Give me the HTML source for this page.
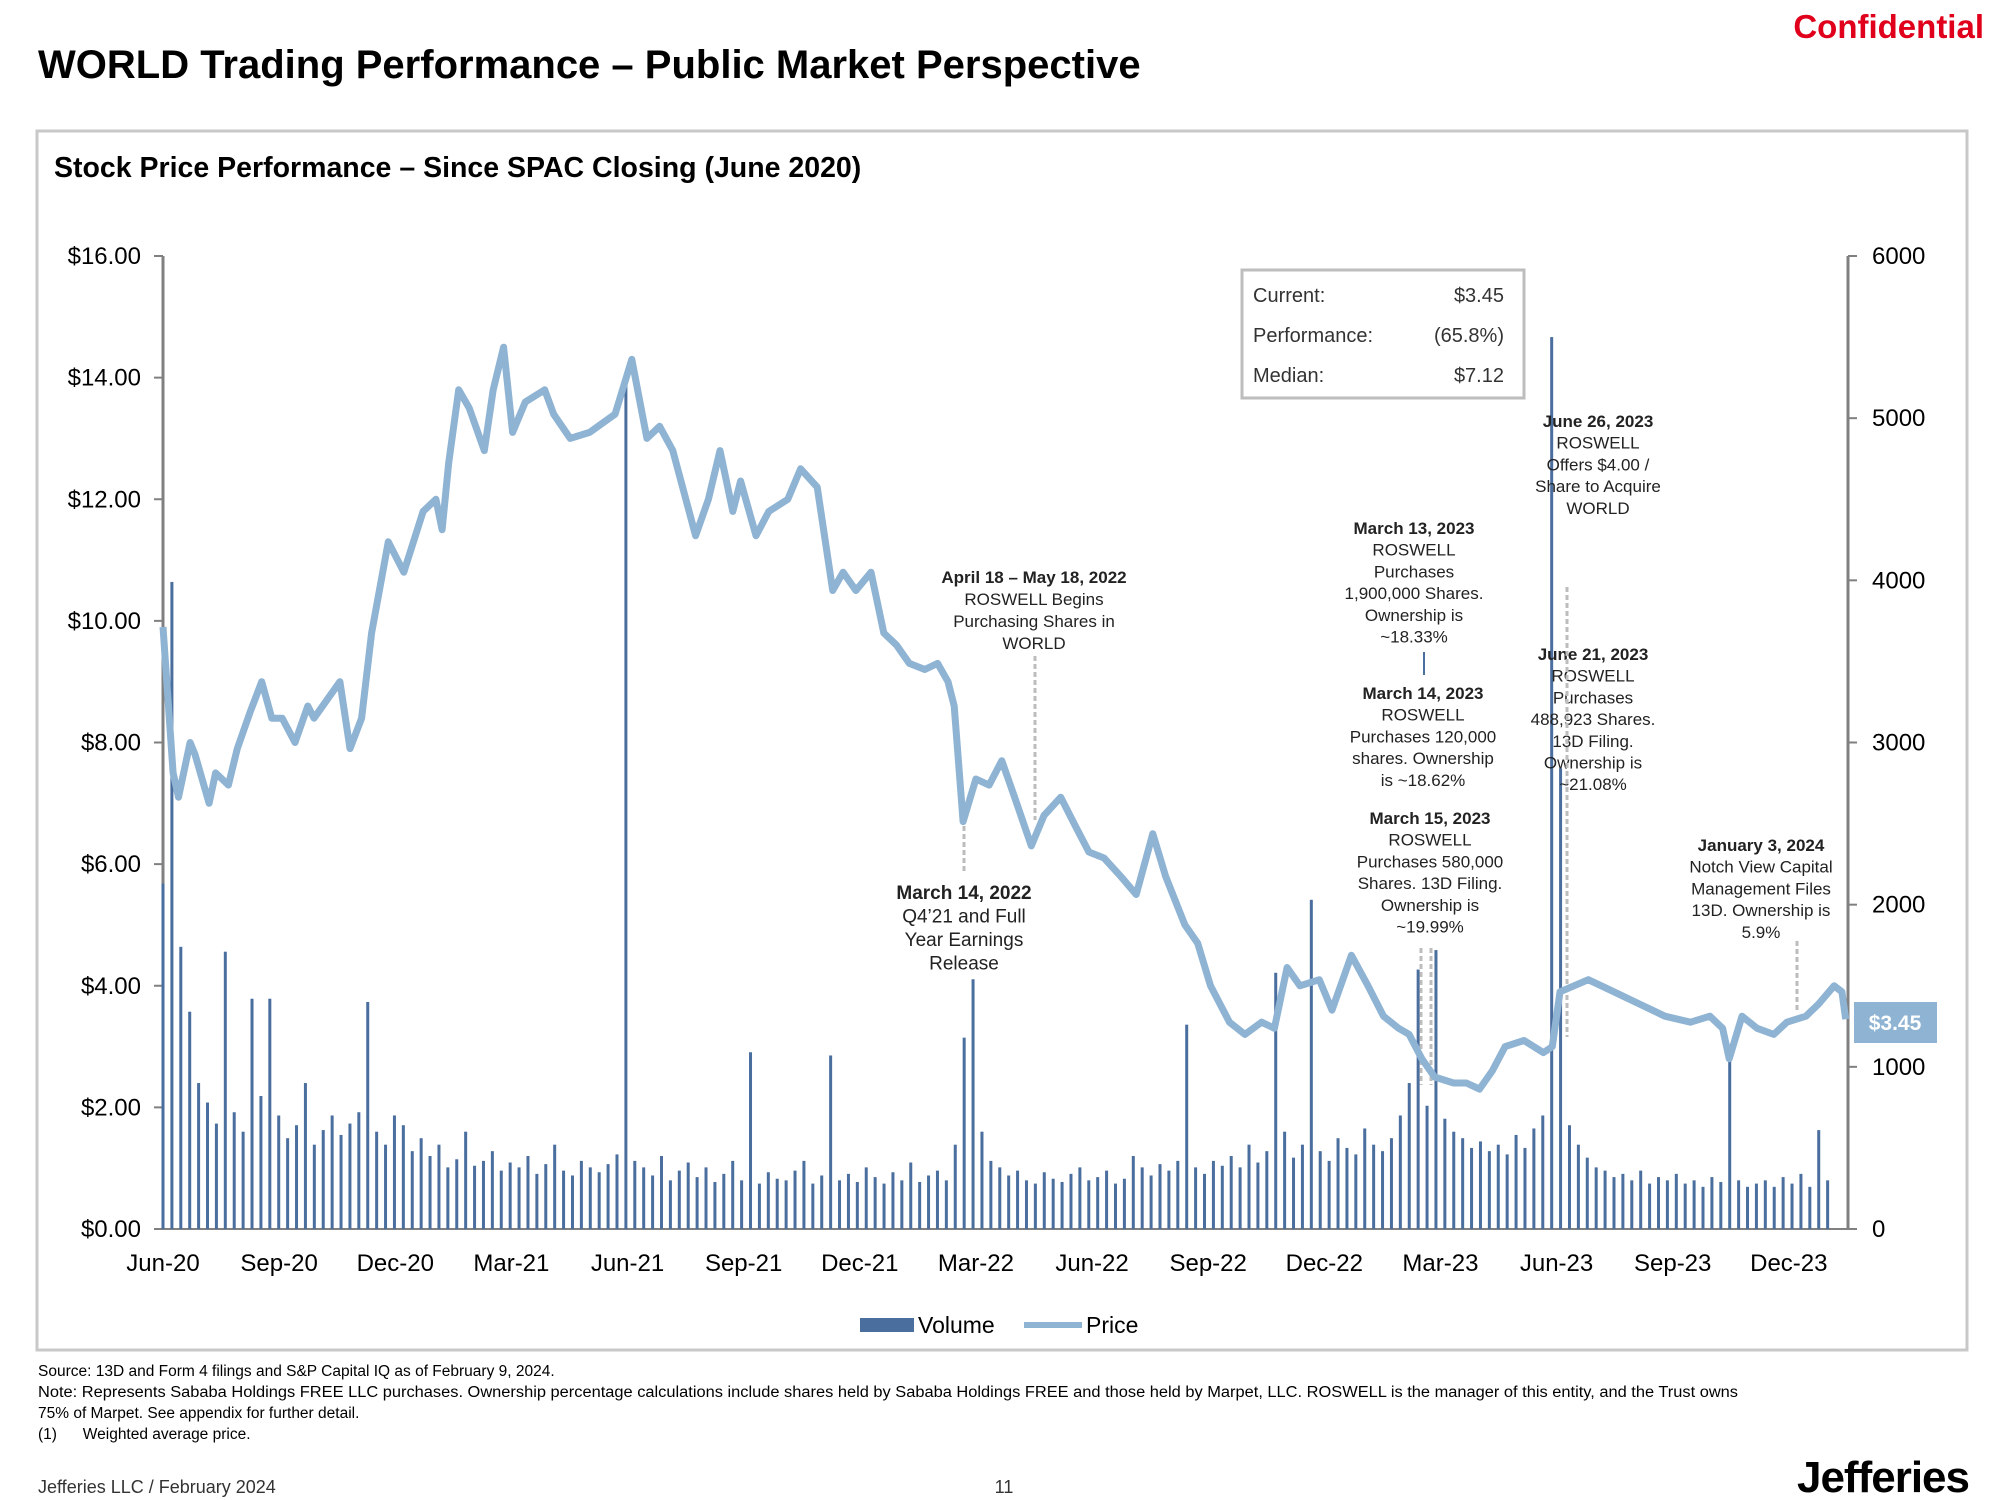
<!DOCTYPE html>
<html><head><meta charset="utf-8">
<style>
html,body{margin:0;padding:0;background:#fff;}
svg{display:block;font-family:"Liberation Sans Narrow","Liberation Sans",sans-serif;}
</style></head>
<body>
<svg id="chart" width="2000" height="1500" viewBox="0 0 2000 1500">
<text x="38" y="78" font-size="40" font-weight="bold" fill="#000">WORLD Trading Performance – Public Market Perspective</text>
<text x="1984" y="38" text-anchor="end" font-size="33" font-weight="bold" fill="#e0001b">Confidential</text>
<rect x="37" y="131" width="1930" height="1219" fill="none" stroke="#c8c8c8" stroke-width="3"/>
<text x="54" y="177" font-size="28.5" font-weight="bold" fill="#000">Stock Price Performance – Since SPAC Closing (June 2020)</text>
<g id="axes"></g>
<g id="vol"></g>
<g id="ann"></g>
<g id="price"></g>
<g>
<rect x="1242" y="270" width="282" height="128" fill="#fff" stroke="#bdbdbd" stroke-width="3"/>
<g font-size="20" fill="#333">
<text x="1253" y="302">Current:</text>
<text x="1504" y="302" text-anchor="end">$3.45</text>
<text x="1253" y="342">Performance:</text>
<text x="1504" y="342" text-anchor="end">(65.8%)</text>
<text x="1253" y="382">Median:</text>
<text x="1504" y="382" text-anchor="end">$7.12</text>
</g></g>
<g>
<rect x="1854" y="1002" width="83" height="41" fill="#8fb3d3"/>
<text x="1895" y="1030" text-anchor="middle" font-size="21" font-weight="bold" fill="#fff">$3.45</text>
</g>
<g>
<rect x="860" y="1318" width="54" height="14" fill="#4a6e9e"/>
<text x="918" y="1333" font-size="23" fill="#000">Volume</text>
<line x1="1024" y1="1325" x2="1082" y2="1325" stroke="#8fb3d3" stroke-width="6"/>
<text x="1086" y="1333" font-size="23" fill="#000">Price</text>
</g>
<g font-size="15.5" fill="#000">
<text x="38" y="1376">Source: 13D and Form 4 filings and S&amp;P Capital IQ as of February 9, 2024.</text>
<text x="38" y="1397" textLength="1700" lengthAdjust="spacingAndGlyphs">Note: Represents Sababa Holdings FREE LLC purchases. Ownership percentage calculations include shares held by Sababa Holdings FREE and those held by Marpet, LLC. ROSWELL is the manager of this entity, and the Trust owns</text>
<text x="38" y="1418">75% of Marpet. See appendix for further detail.</text>
<text x="38" y="1439">(1)&#160;&#160;&#160;&#160;&#160;&#160;Weighted average price.</text>
</g>
<text x="38" y="1493" font-size="18" fill="#333">Jefferies LLC  /  February 2024</text>
<text x="1004" y="1493" font-size="18" fill="#333" text-anchor="middle">11</text>
<text x="1969" y="1492" font-size="44" font-weight="bold" fill="#000" text-anchor="end" letter-spacing="-1">Jefferies</text>
</svg>
<script>
const xTickLabels=["Jun-20","Sep-20","Dec-20","Mar-21","Jun-21","Sep-21","Dec-21","Mar-22","Jun-22","Sep-22","Dec-22","Mar-23","Jun-23","Sep-23","Dec-23"];
const yLeftTicks=[0,2,4,6,8,10,12,14,16];
const yRightTicks=[0,1000,2000,3000,4000,5000,6000];
// price series: months since end of Jun-2020, price in $
const priceMonths=[0,0.26,0.4,0.7,0.83,1.19,1.36,1.69,1.92,2.25,2.55,2.81,3.08,3.41,3.74,3.9,4.57,4.83,5.13,5.39,5.82,6.22,6.72,7.05,7.21,7.38,7.64,7.91,8.3,8.53,8.8,9.03,9.36,9.86,10.09,10.52,11.02,11.68,12.11,12.5,12.83,13.17,13.76,14.09,14.39,14.72,14.92,15.32,15.65,16.14,16.47,16.9,17.3,17.57,17.9,18.29,18.62,18.95,19.28,19.68,20.01,20.28,20.44,20.67,21.0,21.34,21.67,22.0,22.43,22.76,23.19,23.59,23.92,24.31,24.74,25.14,25.57,25.9,26.4,26.73,27.06,27.55,27.95,28.38,28.71,29.04,29.37,29.87,30.2,30.7,31.13,31.53,31.92,32.19,32.52,32.85,33.34,33.67,34.01,34.34,34.67,35.16,35.66,35.89,36.09,36.82,37.48,38.14,38.8,39.46,39.96,40.29,40.46,40.79,41.18,41.61,41.95,42.44,42.77,43.17,43.37,43.47];
const priceValues=[9.9,7.5,7.1,8.0,7.8,7.0,7.5,7.3,7.9,8.5,9.0,8.4,8.4,8.0,8.6,8.4,9.0,7.9,8.4,9.8,11.3,10.8,11.8,12.0,11.5,12.6,13.8,13.5,12.8,13.8,14.5,13.1,13.6,13.8,13.4,13.0,13.1,13.4,14.3,13.0,13.2,12.8,11.4,12.0,12.8,11.8,12.3,11.4,11.8,12.0,12.5,12.2,10.5,10.8,10.5,10.8,9.8,9.6,9.3,9.2,9.3,9.0,8.6,6.7,7.4,7.3,7.7,7.1,6.3,6.8,7.1,6.6,6.2,6.1,5.8,5.5,6.5,5.8,5.0,4.7,4.0,3.4,3.2,3.4,3.3,4.3,4.0,4.1,3.6,4.5,4.0,3.5,3.3,3.2,2.8,2.5,2.4,2.4,2.3,2.6,3.0,3.1,2.9,3.0,3.9,4.1,3.9,3.7,3.5,3.4,3.5,3.3,2.8,3.5,3.3,3.2,3.4,3.5,3.7,4.0,3.9,3.45];
// weekly volume (thousands of shares)
const volumeValues=[2130,3990,1740,1340,900,780,650,1710,720,600,1420,820,1420,700,560,640,900,520,610,700,580,650,720,1400,600,520,700,640,480,560,450,520,380,430,600,390,420,480,360,410,380,450,340,400,520,360,330,420,380,350,400,460,5250,420,380,330,450,300,360,410,320,380,290,340,420,300,1090,280,350,310,300,360,420,280,330,1070,300,340,290,380,320,280,350,300,410,290,330,360,300,520,1180,1540,600,420,380,330,360,300,280,350,310,290,340,380,300,320,360,280,310,450,380,330,400,360,420,1260,380,340,420,390,450,380,520,410,480,1580,600,440,520,2030,480,420,560,500,460,620,520,480,560,700,900,1600,760,1720,680,600,560,500,540,480,520,460,580,500,620,700,5500,2840,640,520,440,380,360,320,340,300,360,280,320,300,340,280,300,260,320,290,1070,300,260,280,300,260,320,280,340,260,610,300];
const volumeWeekMonths=7/30.44;

const NS="http://www.w3.org/2000/svg";
const X0=163,XM=38.71,YB=1229,YT=256;
const xS=m=>X0+m*XM;
const yP=p=>YB-p/16*(YB-YT);
const yV=v=>YB-v/6000*(YB-YT);
function mk(tag,attrs,parent,txt){const e=document.createElementNS(NS,tag);for(const k in attrs)e.setAttribute(k,attrs[k]);if(txt!==undefined)e.textContent=txt;parent.appendChild(e);return e;}
const axes=document.getElementById('axes');
let e=mk('line',{x1:X0,y1:YT,x2:X0,y2:YB,stroke:'#808080','stroke-width':3},axes);


e=mk('line',{x1:1848,y1:YT,x2:1848,y2:YB,stroke:'#808080','stroke-width':3},axes);


e=mk('line',{x1:X0,y1:YB,x2:1848,y2:YB,stroke:'#808080','stroke-width':2},axes);


yLeftTicks.forEach(v=>{
  mk('line',{x1:X0-9,y1:yP(v),x2:X0,y2:yP(v),stroke:'#808080','stroke-width':2},axes);
  const t=mk('text',{x:141,y:yP(v)+8,'text-anchor':'end','font-size':24,fill:'#000'},axes,'$'+v.toFixed(2));
  
  
});
yRightTicks.forEach(v=>{
  mk('line',{x1:1848,y1:yV(v),x2:1857,y2:yV(v),stroke:'#808080','stroke-width':2},axes);
  const t=mk('text',{x:1872,y:yV(v)+8,'font-size':24,fill:'#000'},axes,String(v));
  
  
});
xTickLabels.forEach((l,i)=>{
  const t=mk('text',{x:xS(i*3),y:1271,'text-anchor':'middle','font-size':24,fill:'#000'},axes,l);
  
  
});
const vol=document.getElementById('vol');
volumeValues.forEach((v,i)=>{
  const x=xS(i*volumeWeekMonths);
  const r=mk('rect',{x:x-1.5,y:yV(v),width:3,height:YB-yV(v),fill:'#4a6e9e'},vol);
  
  
});
const pr=document.getElementById('price');
const d=priceMonths.map((m,i)=>(i?'L':'M')+xS(m).toFixed(1)+' '+yP(priceValues[i]).toFixed(1)).join(' ');
const pl=mk('path',{d:d,fill:'none',stroke:'#8fb3d3','stroke-width':7,'stroke-linejoin':'round'},pr);


// annotations
const ann=document.getElementById('ann');
const notes=[
 {x:1034,y:583,lines:["April 18 – May 18, 2022","ROSWELL Begins","Purchasing Shares in","WORLD"],fs:17,ls:22,name:'annotation-apr-2022'},
 {x:964,y:899,lines:["March 14, 2022","Q4’21 and Full","Year Earnings","Release"],fs:19,ls:23.5,name:'annotation-mar-2022'},
 {x:1414,y:534,lines:["March 13, 2023","ROSWELL","Purchases","1,900,000 Shares.","Ownership is","~18.33%"],fs:17,ls:21.7,name:'annotation-mar13-2023'},
 {x:1423,y:699,lines:["March 14, 2023","ROSWELL","Purchases 120,000","shares. Ownership","is ~18.62%"],fs:17,ls:21.7,name:'annotation-mar14-2023'},
 {x:1430,y:824,lines:["March 15, 2023","ROSWELL","Purchases 580,000","Shares. 13D Filing.","Ownership is","~19.99%"],fs:17,ls:21.7,name:'annotation-mar15-2023'},
 {x:1598,y:427,lines:["June 26, 2023","ROSWELL","Offers $4.00 /","Share to Acquire","WORLD"],fs:17,ls:21.7,name:'annotation-jun26-2023'},
 {x:1593,y:660,lines:["June 21, 2023","ROSWELL","Purchases","488,923 Shares.","13D Filing.","Ownership is","~21.08%"],fs:17,ls:21.7,name:'annotation-jun21-2023'},
 {x:1761,y:851,lines:["January 3, 2024","Notch View Capital","Management Files","13D. Ownership is","5.9%"],fs:17,ls:21.7,name:'annotation-jan-2024'}
];
notes.forEach(n=>{
  const g=mk('g',{},ann);
  
  
  n.lines.forEach((l,i)=>mk('text',{x:n.x,y:n.y+i*n.ls,'text-anchor':'middle','font-size':n.fs,'font-weight':i?'normal':'bold',fill:'#222'},g,l));
});
const leaders=[[1035,656,1035,820,true],[964,826,964,872,true],[1424,652,1424,675,false],[1421,948,1421,1085,true],[1431,948,1431,1085,true],[1567,587,1567,1037,true],[1797,941,1797,1010,true]];
leaders.forEach(a=>{
  const l=mk('line',{x1:a[0],y1:a[1],x2:a[2],y2:a[3],stroke:a[4]?'#bdbdbd':'#4a6e9e','stroke-width':a[4]?3:2,'stroke-dasharray':a[4]?'5 3':'none'},ann);
  
  
});
</script>
</body></html>
